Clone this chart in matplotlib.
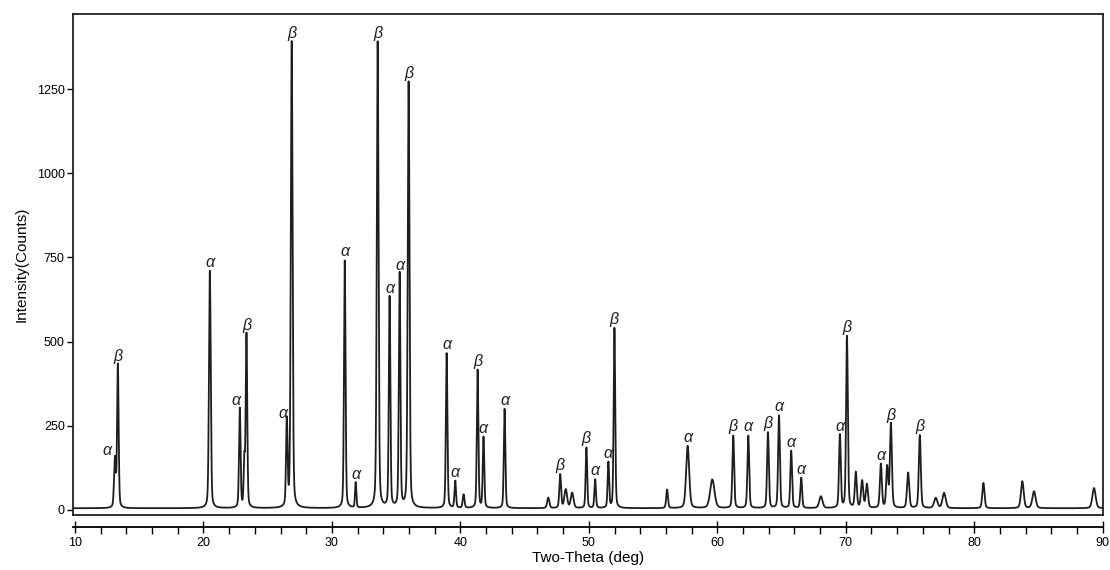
import numpy as np
import matplotlib.pyplot as plt
from matplotlib.ticker import MultipleLocator

plt.rcParams["font.family"] = ["Liberation Sans", "DejaVu Sans"]

# peak list: position (2-theta, deg), peak top (counts), FWHM (deg), phase label
peak_pos = [13.11, 13.34, 20.50, 22.83, 23.18, 23.35, 26.49, 26.87, 31.00, 31.85,
            33.56, 34.49, 35.27, 35.97, 38.93, 39.60, 40.25, 41.34, 41.80, 43.44,
            46.84, 47.77, 48.20, 48.70, 49.81, 50.49, 51.52, 51.99, 56.09, 57.69,
            59.61, 61.24, 62.41, 63.94, 64.80, 65.75, 66.53, 68.06, 69.54, 70.09,
            70.78, 71.27, 71.64, 72.73, 73.22, 73.51, 74.85, 75.76, 77.00, 77.65,
            80.71, 83.74, 84.65, 89.32]
peak_top = [150, 430, 710, 300, 140, 520, 260, 1390, 740, 80,
            1390, 630, 700, 1270, 465, 85, 45, 415, 215, 300,
            36, 105, 60, 50, 185, 90, 140, 540, 60, 190,
            90, 220, 220, 230, 280, 175, 95, 40, 222, 515,
            110, 85, 75, 135, 125, 255, 110, 222, 35, 50,
            80, 85, 55, 65]
peak_fwhm = [0.16, 0.14, 0.16, 0.14, 0.12, 0.14, 0.14, 0.16, 0.14, 0.12,
             0.16, 0.14, 0.14, 0.16, 0.14, 0.14, 0.16, 0.14, 0.14, 0.14,
             0.20, 0.16, 0.25, 0.25, 0.14, 0.14, 0.14, 0.14, 0.16, 0.28,
             0.40, 0.16, 0.16, 0.16, 0.16, 0.16, 0.16, 0.30, 0.16, 0.16,
             0.18, 0.20, 0.20, 0.18, 0.18, 0.18, 0.20, 0.18, 0.30, 0.30,
             0.20, 0.25, 0.30, 0.30]
peak_phase = ["α", "β", "α", "α", "", "β", "α", "β", "α", "α",
              "β", "α", "α", "β", "α", "α", "", "β", "α", "α",
              "", "β", "", "", "β", "α", "α", "β", "", "α",
              "", "β", "α", "β", "α", "α", "α", "", "α", "β",
              "", "", "", "α", "", "β", "", "β", "", "",
              "", "", "", ""]
background = 5

x_ticks = [10, 20, 30, 40, 50, 60, 70, 80, 90]
y_ticks = [0, 250, 500, 750, 1000, 1250]

# build the scan from pseudo-Voigt profiles
two_theta = np.arange(9.85, 90.02, 0.005)
counts = np.full_like(two_theta, background, dtype=float)
for pos, top, w in zip(peak_pos, peak_top, peak_fwhm):
    hw = w / 2
    d = two_theta - pos
    gauss = np.exp(-np.log(2) * (d / hw) ** 2)
    lorentz = 1 / (1 + (d / hw) ** 2)
    counts += (top - background) * (0.7 * gauss + 0.3 * lorentz)

fig = plt.figure(figsize=(11.1, 5.7), dpi=100)
ax = fig.add_axes([0.0658, 0.0965, 0.9279, 0.8789])
ax.plot(two_theta, counts, color="#1e1e1e", lw=1.3)

ax.set_xlim(9.85, 90.02)
ax.set_ylim(-15, 1473)
ax.set_yticks(y_ticks)
ax.tick_params(axis="y", direction="out", length=4, width=1, labelsize=9, pad=2)
ax.tick_params(axis="x", bottom=False, labelbottom=False)
for s in ax.spines.values():
    s.set_linewidth(1.3)
    s.set_color("#222222")
ax.set_ylabel("Intensity(Counts)", fontsize=11, labelpad=6)

# detached two-theta axis below the frame
sec = ax.secondary_xaxis(-0.024)
sec.set_xticks(x_ticks)
sec.xaxis.set_minor_locator(MultipleLocator(2))
sec.tick_params(which="major", direction="inout", length=9, width=1, labelsize=9, pad=3)
sec.tick_params(which="minor", direction="out", length=5, width=1)
sec.spines["bottom"].set_linewidth(1.3)
sec.set_xlabel("Two-Theta (deg)", fontsize=11, labelpad=1)

# phase labels above the peaks; alpha shoulders sitting next to a beta peak
# get nudged left so the letter clears the taller line
for pos, top, ph in zip(peak_pos, peak_top, peak_phase):
    if not ph:
        continue
    dx = 0
    if pos < 13.2:
        dx = -6
    elif pos in (22.83, 26.49):
        dx = -3
    ax.annotate(ph, (pos, top), xytext=(dx, 1), textcoords="offset points",
                ha="center", va="bottom", fontsize=11.5, fontstyle="italic",
                color="#222222")

fig.savefig("out.png", dpi=100)
